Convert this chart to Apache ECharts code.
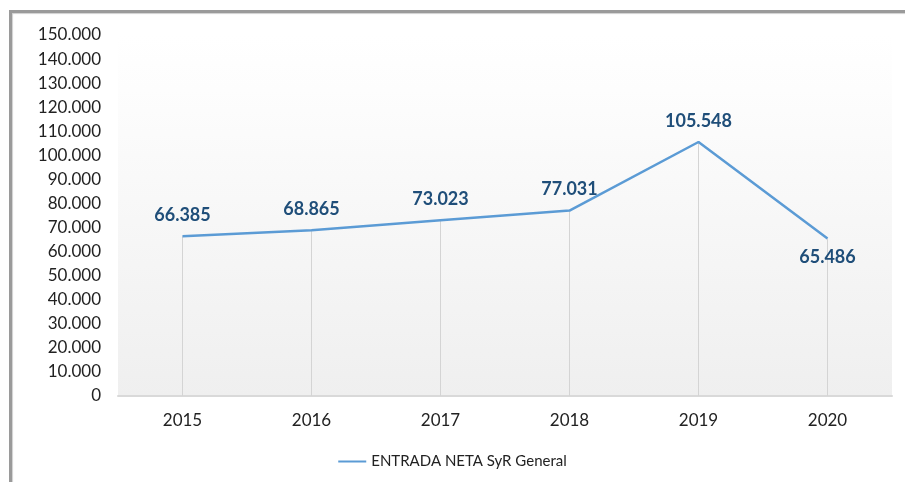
<!DOCTYPE html>
<html>
<head>
<meta charset="utf-8">
<script src="https://cdn.jsdelivr.net/npm/echarts@6/dist/echarts.min.js"></script>
<style>
    html, body { margin: 0; padding: 0; background: #fff; }
    #frame {
        position: absolute; left: 9px; top: 10px; width: 910px; height: 490px;
        border-left: 3px solid #9a9a9a; border-top: 3px solid #9a9a9a;
        box-shadow: inset 1px 1px 1px #d0d0d0;
    }
    #chart { position: absolute; left: 0; top: 0; width: 905px; height: 482px; }
</style>
</head>
<body>
<div id="frame"></div>
<div id="chart"></div>
<script>
    // datos
    const years = ['2015', '2016', '2017', '2018', '2019', '2020']
    const entradaNeta = [66385, 68865, 73023, 77031, 105548, 65486]
    const seriesName = 'ENTRADA NETA SyR General'

    function fmt(v) {
        return String(v).replace(/\B(?=(\d{3})+(?!\d))/g, '.')
    }

    let lineData = entradaNeta.map((v, i) => {
        let item = { value: v }
        if (i === entradaNeta.length - 1) {
            item.label = { position: 'bottom', distance: 10 }
        }
        return item
    })

    let option = {
        animation: false,
        textStyle: { fontFamily: 'Lato' },
        grid: {
            left: 118,
            right: 13,
            top: 35,
            bottom: 86,
            show: true,
            borderWidth: 0,
            backgroundColor: {
                type: 'linear', x: 0, y: 0, x2: 0, y2: 1,
                colorStops: [
                    { offset: 0, color: '#ffffff' },
                    { offset: 0.15, color: '#fdfdfd' },
                    { offset: 1, color: '#efefef' },
                ],
            },
        },
        legend: {
            bottom: 8,
            left: 'center',
            itemWidth: 28,
            itemHeight: 2,
            itemGap: 4,
            data: [{ name: seriesName, icon: 'rect' }],
            textStyle: { fontFamily: 'Lato', fontSize: 15, color: '#222' },
        },
        xAxis: {
            type: 'category',
            data: years,
            axisLine: { lineStyle: { color: '#d9d9d9', width: 2 } },
            axisTick: { show: false },
            axisLabel: { fontSize: 17, color: '#222', margin: 16 },
        },
        yAxis: {
            type: 'value',
            min: 0,
            max: 150000,
            interval: 10000,
            splitLine: { show: false },
            axisLine: { show: false },
            axisTick: { show: false },
            axisLabel: {
                fontSize: 17, color: '#222', margin: 17,
                formatter: v => fmt(v),
            },
        },
        series: [
            {
                // lineas de caida
                type: 'bar',
                data: entradaNeta,
                barWidth: 1,
                silent: true,
                itemStyle: { color: '#d4d4d4' },
                z: 1,
            },
            {
                name: seriesName,
                type: 'line',
                data: lineData,
                symbol: 'circle',
                symbolSize: 0,
                showSymbol: true,
                lineStyle: { color: '#5b9bd5', width: 2.5 },
                itemStyle: { color: '#5b9bd5' },
                label: {
                    show: true,
                    position: 'top',
                    distance: 12,
                    fontSize: 18,
                    fontWeight: 'bold',
                    color: '#1f4e79',
                    fontFamily: 'Lato',
                    formatter: p => fmt(p.value),
                },
                z: 3,
            },
        ],
    }

    let myChart = echarts.init(document.getElementById('chart'))
    myChart.setOption(option)
</script>
</body>
</html>
